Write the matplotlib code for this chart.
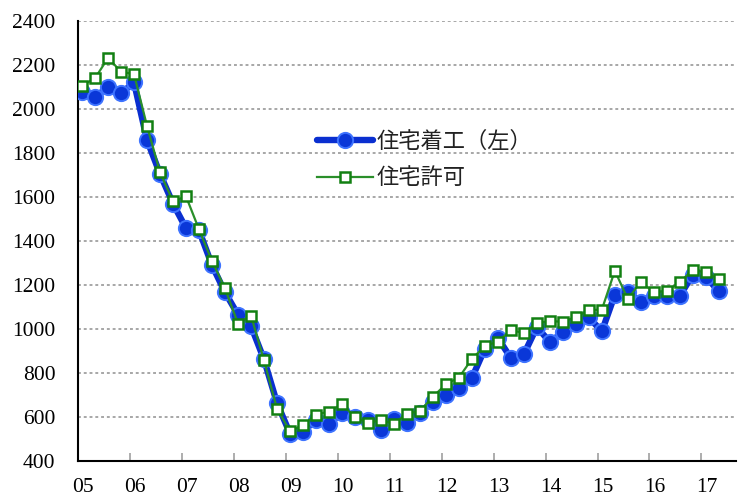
import matplotlib
matplotlib.use("Agg")
import matplotlib.pyplot as plt
import numpy as np

# ---- data (quarterly, 2005Q1 - 2017Q2) ----
years = [2005]*4 + [2006]*4 + [2007]*4 + [2008]*4 + [2009]*4 + [2010]*4 + \
        [2011]*4 + [2012]*4 + [2013]*4 + [2014]*4 + [2015]*4 + [2016]*4 + [2017]*2
quarters = [1, 2, 3, 4]*12 + [1, 2]

housing_starts = [2076, 2053, 2101, 2071,
                  2121, 1859, 1705, 1570,
                  1458, 1449, 1290, 1167,
                  1065, 1014, 862, 664,
                  525, 532, 588, 570,
                  618, 600, 585, 543,
                  593, 573, 620, 670,
                  702, 734, 777, 911,
                  959, 868, 885, 1009,
                  941, 985, 1021, 1053,
                  989, 1156, 1166, 1124,
                  1148, 1151, 1151, 1247,
                  1238, 1171]

building_permits = [2106, 2140, 2232, 2170,
                    2158, 1923, 1712, 1580,
                    1603, 1453, 1309, 1185,
                    1025, 1061, 858, 638,
                    536, 562, 611, 625,
                    659, 599, 574, 585,
                    570, 615, 627, 692,
                    749, 779, 864, 923,
                    943, 994, 983, 1027,
                    1036, 1033, 1055, 1086,
                    1088, 1265, 1136, 1215,
                    1166, 1174, 1212, 1270,
                    1257, 1227]

tick_years = list(range(2005, 2018))
tick_labels = ["05", "06", "07", "08", "09", "10", "11", "12", "13", "14", "15", "16", "17"]
y_ticks = [400, 600, 800, 1000, 1200, 1400, 1600, 1800, 2000, 2200, 2400]

label_starts = "住宅着工（左）"
label_permits = "住宅許可"

# x position: middle month of each quarter
x = np.array(years) + (3*np.array(quarters) - 2) / 12.0

fig = plt.figure(figsize=(7.38, 4.97), dpi=100)
ax = fig.add_axes([0.1053, 0.0724, 0.8917, 0.8853])

ax.plot(x, housing_starts, color="#0a2fd0", lw=4.6, marker="o", markersize=11,
        markerfacecolor="#0a37d8", markeredgecolor="#3f74ff", markeredgewidth=1.4,
        label=label_starts, zorder=3, solid_capstyle="round")
ax.plot(x, building_permits, color="#2a8f2a", lw=1.6, marker="s", markersize=7.5,
        markerfacecolor="white", markeredgecolor="#128012", markeredgewidth=1.8,
        label=label_permits, zorder=4)

ax.set_xlim(2005, 2017.66)
ax.set_ylim(400, 2400)

ax.set_yticks(y_ticks)
ax.set_yticklabels([str(v) for v in y_ticks], family="Liberation Serif", fontsize=15.5)
ax.tick_params(axis="y", length=0, pad=16)
ax.yaxis.grid(True, color="#a0a0a0", linestyle=(0, (1.6, 1.6)), linewidth=1.3)
ax.set_axisbelow(True)

ax.set_xticks(tick_years)
ax.set_xticklabels([])
ax.set_xticks([t + 0.1 for t in tick_years], minor=True)
ax.set_xticklabels(tick_labels, minor=True, family="Liberation Serif", fontsize=15.5)
ax.tick_params(axis="x", which="major", direction="in", length=6, color="#a0a0a0", width=1.2)
ax.tick_params(axis="x", which="minor", length=0, pad=12)

for s in ["top", "right"]:
    ax.spines[s].set_visible(False)
for s in ["left", "bottom"]:
    ax.spines[s].set_color("black")
    ax.spines[s].set_linewidth(1.5)

leg = fig.legend(loc="upper left", bbox_to_anchor=(0.4295, 0.739), frameon=False,
                 prop={"family": ["Noto Sans CJK JP", "DejaVu Sans"], "size": 16},
                 handlelength=2.5, handletextpad=0.18, labelspacing=0.62, borderpad=0,
                 borderaxespad=0)
for t in leg.get_texts():
    t.set_color("#222222")

fig.savefig("out.png", dpi=100, facecolor="white")
